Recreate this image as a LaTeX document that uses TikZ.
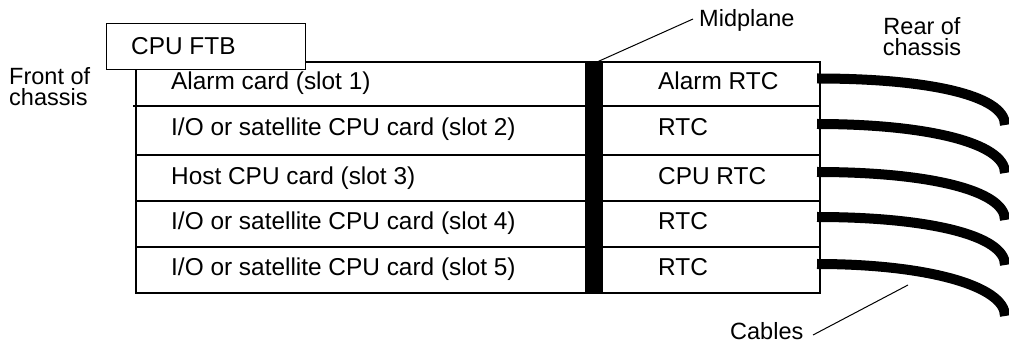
\documentclass[tikz,border=0pt]{standalone}
\usepackage{fontspec}
\setmainfont{Liberation Sans}
\begin{document}
\begin{tikzpicture}[x=1pt,y=-1pt,
  thin line/.style={draw=black,line width=1.2pt},
  leader/.style={draw=black,line width=1pt},
  cell text/.style={anchor=base west,inner sep=0pt,font=\fontsize{24.4}{28}\selectfont},
  label text/.style={inner sep=0pt,font=\fontsize{23.5}{21.5}\selectfont},
  cable/.style={draw=black,line width=10pt,line cap=butt}]
\useasboundingbox (0,0) rectangle (1009,344);

% card cage outline and slot separators
\draw[thin line] (136,62) rectangle (820,293);
\foreach \y in {155,201,247} \draw[thin line] (136,\y) -- (820,\y);
\draw[thin line] (133,106) -- (820,106);

% midplane
\fill[black] (585,62) rectangle (603,293);

% CPU FTB box overlapping the cage
\node[thin line,fill=white,minimum width=199pt,minimum height=46pt,anchor=north west,inner sep=0pt] (ftb) at (106,23) {};
\node[cell text] (ftbt) at (131,55) {CPU FTB};

% front cards
\node[cell text] (s1) at (171,90) {Alarm card (slot 1)};
\node[cell text] (s2) at (171,136) {I/O or satellite CPU card (slot 2)};
\node[cell text] (s3) at (171,185) {Host CPU card (slot 3)};
\node[cell text] (s4) at (171,230) {I/O or satellite CPU card (slot 4)};
\node[cell text] (s5) at (171,276) {I/O or satellite CPU card (slot 5)};

% rear transition cards
\node[cell text] (r1) at (658,90) {Alarm RTC};
\node[cell text] (r2) at (658,136) {RTC};
\node[cell text] (r3) at (658,185) {CPU RTC};
\node[cell text] (r4) at (658,230) {RTC};
\node[cell text] (r5) at (658,276) {RTC};

% cable attachment points and free ends
\coordinate (c1) at (817,78.5);  \coordinate (e1) at (1005,125);
\coordinate (c2) at (817,124);   \coordinate (e2) at (1005,173);
\coordinate (c3) at (817,172);   \coordinate (e3) at (1005,220);
\coordinate (c4) at (817,217);   \coordinate (e4) at (1005,265);
\coordinate (c5) at (817,264);   \coordinate (e5) at (1005,316);
\foreach \i in {1,...,5}
  \draw[cable] (c\i) .. controls +(110,0) and +(0,-30) .. (e\i);

% labels (base anchor sits on the last line)
\node[label text,anchor=base west,align=left] (front) at (9,106) {Front of\\chassis};
\node[label text,anchor=base,align=center] (rear) at (922,56) {Rear of\\chassis};
\node[label text,anchor=base west] (mid) at (699,27) {Midplane};
\node[label text,anchor=base west] (cab) at (730,340) {Cables};

% leader lines
\coordinate (midtop) at (597,62);
\coordinate (midend) at (693,19);
\draw[leader] (midtop) -- (midend);
\coordinate (cabstart) at (813,335);
\coordinate (cabend) at (908,285);
\draw[leader] (cabstart) -- (cabend);
\end{tikzpicture}
\end{document}
